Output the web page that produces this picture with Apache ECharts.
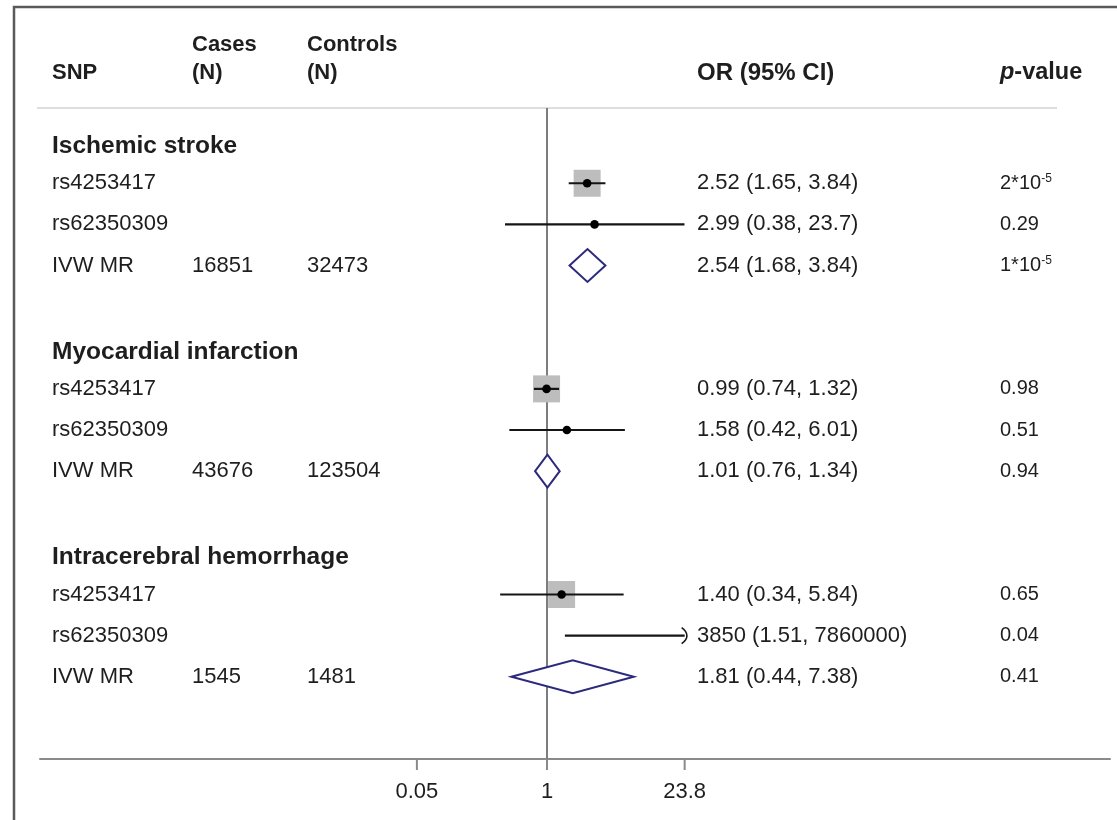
<!DOCTYPE html>
<html><head><meta charset="utf-8">
<script src="https://cdn.jsdelivr.net/npm/echarts@6/dist/echarts.min.js"></script>
<style>html,body{margin:0;padding:0;background:#fff}#c{width:1117px;height:820px}</style>
</head><body><div id="c"></div>
<script>
// ---------------- data ----------------
const groupTitles = ['Ischemic stroke', 'Myocardial infarction', 'Intracerebral hemorrhage'];
const snpLabels = ['rs4253417', 'rs62350309', 'IVW MR'];
const rowKinds = ['box', 'point', 'pooled'];
const casesN = ['16851', '43676', '1545'];
const controlsN = ['32473', '123504', '1481'];
const orEst  = [2.52, 2.99, 2.54, 0.99, 1.58, 1.01, 1.40, 3850, 1.81];
const ciLow  = [1.65, 0.38, 1.68, 0.74, 0.42, 0.76, 0.34, 1.51, 0.44];
const ciHigh = [3.84, 23.7, 3.84, 1.32, 6.01, 1.34, 5.84, 7860000, 7.38];
const pValues = ['2*10^-5', '0.29', '1*10^-5', '0.98', '0.51', '0.94', '0.65', '0.04', '0.41'];
const xTickValues = [0.05, 1, 23.8];
const xTickLabels = ['0.05', '1', '23.8'];
const headerCols = ['SNP', 'Cases', 'Controls', 'OR (95% CI)', 'p-value'];

// ---------------- helpers ----------------
const FONT = '"Liberation Sans", Arial, Helvetica, sans-serif';
const TXT = '#1e1e1e';
function fmt(v) { return v < 10 ? v.toFixed(2) : String(Number(v.toPrecision(3))); }

const rows = [];
groupTitles.forEach((g, gi) => {
  rows.push({ y: gi * 5, title: g });
  snpLabels.forEach((s, si) => {
    const k = gi * 3 + si;
    rows.push({
      y: gi * 5 + 1 + si, label: s, kind: rowKinds[si],
      cases: rowKinds[si] === 'pooled' ? casesN[gi] : '',
      controls: rowKinds[si] === 'pooled' ? controlsN[gi] : '',
      est: orEst[k], lo: ciLow[k], hi: ciHigh[k],
      orText: fmt(orEst[k]) + ' (' + fmt(ciLow[k]) + ', ' + fmt(ciHigh[k]) + ')',
      p: pValues[k]
    });
  });
});
const dataRows = rows.filter(r => !r.title);
const yBottom = 15;

function pRich(p) {
  if (p.indexOf('^') >= 0) { const [a, b] = p.split('^'); return '{n|' + a + '}{s|' + b + '}'; }
  return '{n|' + p + '}';
}

const chart = echarts.init(document.getElementById('c'), null, { renderer: 'canvas' });

const option = {
  backgroundColor: '#fff',
  animation: false,
  grid: { left: 40, right: 7, top: 101, bottom: 61 },
  xAxis: {
    type: 'log', logBase: 10, position: 'bottom',
    min: Math.pow(10, -5.07), max: Math.pow(10, 5.63),
    axisLine: { show: true, onZero: false, lineStyle: { color: '#8a8a8a', width: 2 } },
    axisTick: { show: false }, axisLabel: { show: false }, splitLine: { show: false }
  },
  yAxis: { type: 'value', inverse: true, min: -1, max: yBottom, show: false },
  graphic: [
    { type: 'polyline', silent: true, shape: { points: [[14, 820], [14, 7], [1117, 7]] },
      style: { stroke: '#5a5a5a', lineWidth: 2.5, fill: null } },
    { type: 'line', silent: true, shape: { x1: 37, y1: 108, x2: 1057, y2: 108 },
      style: { stroke: '#dedede', lineWidth: 2 } },
    { type: 'text', x: 52, y: 73, style: { text: headerCols[0], font: 'bold 22px ' + FONT, fill: TXT, verticalAlign: 'middle' } },
    { type: 'text', x: 192, y: 45, style: { text: headerCols[1], font: 'bold 22px ' + FONT, fill: TXT, verticalAlign: 'middle' } },
    { type: 'text', x: 192, y: 73, style: { text: '(N)', font: 'bold 22px ' + FONT, fill: TXT, verticalAlign: 'middle' } },
    { type: 'text', x: 307, y: 45, style: { text: headerCols[2], font: 'bold 22px ' + FONT, fill: TXT, verticalAlign: 'middle' } },
    { type: 'text', x: 307, y: 73, style: { text: '(N)', font: 'bold 22px ' + FONT, fill: TXT, verticalAlign: 'middle' } },
    { type: 'text', x: 697, y: 73, style: { text: headerCols[3], font: 'bold 24px ' + FONT, fill: TXT, verticalAlign: 'middle' } },
    { type: 'text', x: 1000, y: 73, style: {
        text: '{i|' + headerCols[4].charAt(0) + '}{b|' + headerCols[4].slice(1) + '}',
        verticalAlign: 'middle',
        rich: {
          i: { fontFamily: FONT, fontSize: 23.5, fontWeight: 'bold', fontStyle: 'italic', fill: TXT },
          b: { fontFamily: FONT, fontSize: 23.5, fontWeight: 'bold', fill: TXT }
        } } }
  ],
  series: [
    // reference line at OR = 1
    {
      type: 'custom', clip: false, silent: true,
      data: [[1, -0.83, yBottom]],
      renderItem: (params, api) => {
        const a = api.coord([api.value(0), api.value(1)]);
        const b = api.coord([api.value(0), api.value(2)]);
        return { type: 'line', shape: { x1: a[0], y1: a[1], x2: b[0], y2: b[1] },
          style: { stroke: '#7d7d7d', lineWidth: 2 } };
      }
    },
    // ticks + tick labels
    {
      type: 'custom', clip: false, silent: true,
      data: xTickValues.map((v, i) => [v, yBottom, i]),
      renderItem: (params, api) => {
        const p = api.coord([api.value(0), api.value(1)]);
        return { type: 'group', children: [
          { type: 'line', shape: { x1: p[0], y1: p[1], x2: p[0], y2: p[1] + 11 },
            style: { stroke: '#8a8a8a', lineWidth: 2 } },
          { type: 'text', x: p[0], y: p[1] + 33, style: { text: xTickLabels[api.value(2)],
            font: '22px ' + FONT, fill: TXT, align: 'center', verticalAlign: 'middle' } }
        ] };
      }
    },
    // forest marks
    {
      type: 'custom', clip: false, silent: true,
      data: dataRows.map(r => [r.est, r.y, r.lo, r.hi, rowKinds.indexOf(r.kind)]),
      renderItem: (params, api) => {
        const est = api.value(0), y = api.value(1), lo = api.value(2), hi = api.value(3), kind = api.value(4);
        const cLo = xTickValues[0], cHi = xTickValues[xTickValues.length - 1];
        const pLo = api.coord([Math.max(lo, cLo), y]);
        const pHi = api.coord([Math.min(hi, cHi), y]);
        const pE = api.coord([est, y]);
        const ch = [];
        if (kind === 2) {
          const h = 16.5;
          ch.push({ type: 'polygon', shape: { points: [[pLo[0], pE[1]], [pE[0], pE[1] - h], [pHi[0], pE[1]], [pE[0], pE[1] + h]] },
            style: { fill: '#fff', stroke: '#2c2a7c', lineWidth: 2 } });
        } else {
          if (kind === 0) {
            const s = 27;
            ch.push({ type: 'rect', shape: { x: pE[0] - s / 2, y: pE[1] - s / 2, width: s, height: s },
              style: { fill: '#bdbdbd' } });
          }
          ch.push({ type: 'line', shape: { x1: pLo[0], y1: pLo[1], x2: pHi[0], y2: pHi[1] },
            style: { stroke: '#151515', lineWidth: 2.2 } });
          if (hi > cHi) {
            ch.push({ type: 'bezierCurve', shape: { x1: pHi[0] - 3, y1: pHi[1] - 8, cpx1: pHi[0] + 4, cpy1: pHi[1] - 3,
              x2: pHi[0] - 3, y2: pHi[1] + 8, cpx2: pHi[0] + 4, cpy2: pHi[1] + 3 },
              style: { stroke: '#151515', lineWidth: 1.6, fill: null } });
          }
          if (est <= cHi) {
            ch.push({ type: 'circle', shape: { cx: pE[0], cy: pE[1], r: 4.3 }, style: { fill: '#000' } });
          }
        }
        return { type: 'group', children: ch };
      }
    },
    // table text
    {
      type: 'custom', clip: false, silent: true,
      data: rows.map((r, i) => [0, r.y, i]),
      renderItem: (params, api) => {
        const r = rows[api.value(2)];
        const yy = api.coord([1, api.value(1)])[1];
        if (r.title) {
          return { type: 'text', x: 52, y: yy + 4, style: { text: r.title, font: 'bold 24.5px ' + FONT, fill: TXT, verticalAlign: 'middle' } };
        }
        const base = { font: '22px ' + FONT, fill: TXT, verticalAlign: 'middle' };
        const ch = [
          { type: 'text', x: 52, y: yy, style: Object.assign({ text: r.label }, base) },
          { type: 'text', x: 697, y: yy, style: Object.assign({ text: r.orText }, base) },
          { type: 'text', x: 1000, y: yy, style: { text: pRich(r.p), verticalAlign: 'middle',
            rich: { n: { fontFamily: FONT, fontSize: 20, fill: TXT },
                    s: { fontFamily: FONT, fontSize: 12, fill: TXT, padding: [0, 0, 9, 0] } } } }
        ];
        if (r.cases) ch.push({ type: 'text', x: 192, y: yy, style: Object.assign({ text: r.cases }, base) });
        if (r.controls) ch.push({ type: 'text', x: 307, y: yy, style: Object.assign({ text: r.controls }, base) });
        return { type: 'group', children: ch };
      }
    }
  ]
};
chart.setOption(option);
</script>
</body></html>
